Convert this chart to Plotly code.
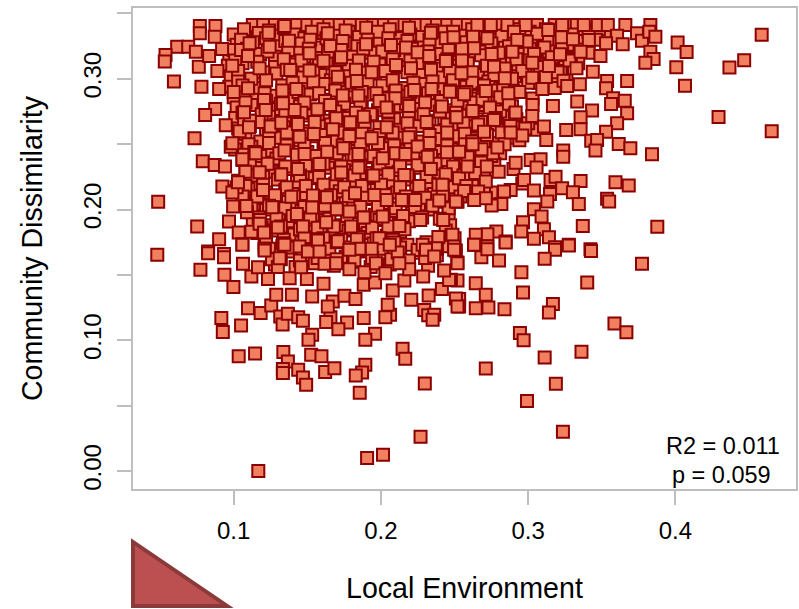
import plotly.graph_objects as go

# Underlying mass of overlapping squares (read approximately, row by row)
base_x = [
 .113,.120,.128,.136,.143,.150,.157,.165,.172,.179,.187,.195,.202,.209,.216,.224,.231,.238,.245,.252,.259,.268,.279,.290,.306,.318,.328,.333,
 .100,.108,.117,.129,.141,.148,.156,.170,.178,.185,.195,.203,.213,.220,.228,.242,.256,.268,.282,.297,.306,.317,.328,.343,.352,
 .102,.113,.131,.146,.158,.176,.184,.197,.211,.226,.239,.247,.258,.269,.281,.296,.308,.319,.331,.341,
 .097,.105,.118,.128,.143,.156,.169,.181,.193,.204,.214,.240,.251,.264,.283,.296,.305,.326,.341,
 .096,.106,.128,.141,.148,.163,.178,.190,.199,.213,.226,.238,.249,.259,.271,.292,.309,.323,.334,
 .098,.112,.129,.147,.159,.166,.176,.196,.208,.228,.240,.255,.268,.280,.291,.303,.319,.326,
 .097,.104,.118,.133,.148,.161,.174,.185,.201,.216,.229,.241,.258,.266,.277,.290,.312,.318,
 .100,.115,.127,.138,.152,.165,.180,.192,.205,.214,.226,.236,.253,.263,.274,.283,.303,
 .102,.112,.130,.145,.158,.172,.187,.198,.211,.224,.235,.246,.257,.269,.277,.289,
 .101,.116,.124,.138,.151,.163,.178,.194,.209,.222,.233,.243,.255,.265,.275,.284,.292,
 .103,.111,.122,.134,.148,.160,.171,.184,.199,.213,.226,.240,.250,.262,.271,.283,.295,.304,
 .104,.118,.130,.142,.156,.168,.181,.192,.205,.213,.227,.238,.252,.263,.276,.287,.294,
 .101,.112,.124,.137,.150,.161,.176,.188,.201,.216,.228,.240,.248,.260,.269,.281,
 .106,.117,.129,.143,.155,.167,.180,.193,.206,.220,.231,.243,.255,.266,.277,
 .108,.116,.126,.138,.151,.164,.175,.189,.198,.212,.225,.238,.250,.262,.270,
 .103,.114,.130,.143,.155,.169,.181,.194,.208,.219,.233,.244,.256,.264,
 .101,.110,.122,.135,.148,.160,.172,.185,.197,.211,.224,.236,.248,.267,.275,
 .107,.118,.129,.141,.156,.168,.179,.193,.204,.216,.229,.241,.251,
 .112,.122,.135,.146,.158,.171,.183,.196,.209,.221,.234,.246,
 .113,.125,.139,.151,.162,.174,.188,.199,.212,.219,.247,
 .116,.128,.141,.155,.167,.178,.191,.204,.213,.244,
 .121,.133,.146,.159,.172,.184,.195,.207,.218,.231,.244,
 .126,.138,.151,.163,.176,.188,.200,.213,.225,.238,
 .128,.142,.155,.168,.181,.193,.206,.219,.232,
]
base_y = [
 .3412,.3412,.3412,.3412,.3412,.3412,.3412,.3412,.3412,.3412,.3412,.3412,.3412,.3412,.3412,.3412,.3412,.3412,.3412,.3412,.3412,.3412,.3412,.3412,.3412,.3412,.3412,.3412,
 .334,.332,.335,.333,.334,.331,.335,.333,.336,.332,.335,.333,.331,.334,.332,.336,.333,.335,.332,.334,.331,.335,.333,.336,.332,
 .326,.328,.325,.327,.324,.327,.325,.328,.326,.324,.327,.325,.328,.324,.326,.327,.325,.328,.326,.324,
 .318,.316,.319,.317,.320,.316,.319,.317,.320,.318,.316,.319,.317,.320,.316,.319,.318,.316,.320,
 .310,.312,.309,.311,.308,.312,.310,.307,.311,.309,.312,.308,.310,.312,.309,.307,.311,.309,.312,
 .302,.300,.304,.301,.303,.299,.302,.304,.300,.303,.301,.299,.303,.300,.302,.304,.301,.299,
 .294,.296,.293,.295,.292,.296,.294,.292,.295,.293,.296,.292,.294,.296,.293,.291,.295,.293,
 .286,.284,.287,.285,.288,.284,.286,.288,.285,.287,.284,.286,.288,.285,.283,.287,.285,
 .278,.280,.277,.279,.276,.280,.278,.276,.279,.277,.280,.276,.278,.280,.277,.279,
 .270,.268,.271,.269,.272,.268,.270,.272,.269,.271,.268,.270,.272,.269,.267,.271,.269,
 .262,.264,.261,.263,.260,.264,.262,.260,.263,.261,.264,.260,.262,.264,.261,.259,.263,.261,
 .254,.252,.255,.253,.256,.252,.254,.256,.253,.255,.252,.254,.256,.253,.251,.255,.253,
 .246,.248,.245,.247,.244,.248,.246,.244,.247,.245,.248,.244,.246,.248,.245,.243,
 .238,.236,.239,.237,.240,.236,.238,.240,.237,.239,.236,.238,.240,.237,.235,
 .230,.232,.229,.231,.228,.232,.230,.228,.231,.229,.232,.228,.230,.232,.229,
 .222,.220,.223,.221,.224,.220,.222,.224,.221,.223,.220,.222,.224,.221,
 .214,.216,.213,.215,.212,.216,.214,.212,.215,.213,.216,.212,.214,.216,.213,
 .206,.204,.207,.205,.208,.204,.206,.208,.205,.207,.204,.206,.208,
 .198,.200,.197,.199,.196,.200,.198,.196,.199,.197,.200,.196,
 .190,.188,.191,.189,.192,.188,.190,.192,.189,.191,.188,
 .182,.184,.181,.183,.180,.184,.182,.180,.183,.184,
 .174,.172,.175,.173,.176,.172,.174,.176,.173,.175,.172,
 .166,.168,.165,.167,.164,.168,.166,.164,.167,.165,
 .158,.156,.159,.157,.160,.156,.158,.160,.157,
]

# Second, offset mass filling the dense region
fill_x = [
 .107,.124,.134,.153,.161,.176,.190,.198,.206,.219,.235,.249,.262,.274,.286,.301,.312,.323,.338,.348,
 .105,.122,.135,.152,.163,.174,.191,.205,.218,.233,.244,.263,.276,.289,.302,.313,.324,.336,.346,
 .100,.109,.123,.137,.151,.164,.173,.188,.201,.209,.221,.232,.246,.255,.270,.287,.301,.314,.335,
 .101,.116,.134,.146,.158,.172,.185,.195,.208,.220,.233,.245,.255,.277,.289,.301,.317,.329,
 .103,.120,.136,.154,.169,.183,.203,.218,.234,.247,.262,.274,.285,.298,.314,.322,
 .103,.122,.140,.154,.171,.180,.191,.208,.222,.235,.249,.262,.273,.284,.307,
 .107,.121,.133,.144,.158,.169,.187,.197,.210,.220,.232,.247,.258,.269,.279,
 .108,.122,.132,.148,.162,.175,.186,.199,.217,.230,.241,.252,.263,.271,.286,
 .106,.119,.135,.146,.157,.169,.183,.193,.205,.219,.229,.240,.251,.262,.281,
 .107,.117,.129,.143,.155,.166,.178,.189,.205,.218,.231,.245,.256,.268,.279,.300,
 .108,.124,.136,.151,.162,.175,.187,.199,.208,.220,.233,.245,.257,.270,.282,
 .110,.124,.136,.148,.162,.174,.186,.198,.209,.220,.233,.245,.257,.270,
 .107,.118,.131,.143,.156,.170,.182,.195,.210,.222,.234,.254,.266,.275,
 .111,.123,.135,.149,.161,.173,.186,.199,.213,.225,.237,.249,.260,.271,
 .112,.120,.132,.145,.158,.170,.182,.194,.205,.218,.231,.244,.256,
 .108,.120,.136,.149,.161,.175,.187,.200,.213,.226,.239,.250,.262,
 .106,.116,.128,.141,.154,.166,.178,.190,.203,.217,.230,.242,.254,.271,
 .112,.124,.135,.148,.162,.173,.186,.198,.210,.223,.235,.246,
 .117,.129,.140,.152,.165,.177,.189,.202,.215,.228,.240,
 .119,.132,.145,.157,.168,.181,.194,.205,.216,
 .122,.134,.148,.161,.173,.185,.197,.208,.239,.250,
 .124,.139,.152,.165,.178,.190,.201,.213,.225,.238,
 .132,.145,.157,.170,.182,.194,.207,.219,.230,
]
fill_y = [
 .338,.337,.339,.336,.338,.337,.339,.336,.338,.339,.337,.336,.338,.339,.337,.336,.338,.339,.337,.338,
 .330,.331,.329,.330,.331,.329,.330,.331,.329,.330,.331,.329,.330,.331,.329,.330,.331,.329,.330,
 .322,.323,.321,.322,.323,.321,.322,.323,.321,.322,.323,.321,.322,.323,.321,.322,.323,.321,.322,
 .314,.313,.315,.314,.313,.315,.314,.313,.315,.314,.313,.315,.314,.313,.315,.314,.313,.315,
 .306,.305,.307,.306,.305,.307,.306,.305,.307,.306,.305,.307,.306,.305,.307,.306,
 .298,.299,.297,.298,.299,.297,.298,.299,.297,.298,.299,.297,.298,.299,.297,
 .290,.289,.291,.290,.289,.291,.290,.289,.291,.290,.289,.291,.290,.289,.291,
 .282,.283,.281,.282,.283,.281,.282,.283,.281,.282,.283,.281,.282,.283,.281,
 .274,.273,.275,.274,.273,.275,.274,.273,.275,.274,.273,.275,.274,.273,.275,
 .266,.267,.265,.266,.267,.265,.266,.267,.265,.266,.267,.265,.266,.267,.265,.266,
 .258,.257,.259,.258,.257,.259,.258,.257,.259,.258,.257,.259,.258,.257,.259,
 .250,.251,.249,.250,.251,.249,.250,.251,.249,.250,.251,.249,.250,.251,
 .242,.241,.243,.242,.241,.243,.242,.241,.243,.242,.241,.243,.242,.241,
 .234,.235,.233,.234,.235,.233,.234,.235,.233,.234,.235,.233,.234,.235,
 .226,.225,.227,.226,.225,.227,.226,.225,.227,.226,.225,.227,.226,
 .218,.219,.217,.218,.219,.217,.218,.219,.217,.218,.219,.217,.218,
 .210,.209,.211,.210,.209,.211,.210,.209,.211,.210,.209,.211,.210,.209,
 .202,.203,.201,.202,.203,.201,.202,.203,.201,.202,.203,.201,
 .194,.193,.195,.194,.193,.195,.194,.193,.195,.194,.193,
 .186,.187,.185,.186,.187,.185,.186,.187,.185,
 .178,.177,.179,.178,.177,.179,.178,.177,.179,.178,
 .170,.171,.169,.170,.171,.169,.170,.171,.169,.170,
 .162,.161,.163,.162,.161,.163,.162,.161,.163,
]

# Extra squares in the dense right-hand side and along the left edge
extra_x = [
 .270,.282,.294,.306,.318,.330,.341,.275,.287,.299,.311,.323,.335,.268,.280,.292,.304,.316,.328,
 .272,.284,.296,.308,.320,.277,.289,.300,.312,.324,.270,.283,.294,.281,.269,.287,.303,.274,.291,
 .278,.266,.288,.298,.272,.262,.284,.276,.259,.268,.290,.264,.253,.280,.296,.258,.270,.252,
 .105,.099,.112,.106,.100,.111,.104,.098,.114,.108,.102,.116,.109,.118,.112,.121,.126,.130,
]
extra_y = [
 .3365,.3330,.3380,.3345,.3375,.3340,.3360,.3270,.3250,.3285,.3240,.3265,.3225,.3180,.3200,.3150,.3190,.3165,.3140,
 .3100,.3080,.3060,.3090,.3050,.3030,.3000,.2970,.3015,.2985,.2950,.2930,.2900,.2860,.2840,.2810,.2800,.2780,.2730,
 .2700,.2650,.2640,.2620,.2570,.2520,.2500,.2430,.2400,.2360,.2310,.2280,.2240,.2290,.2200,.2180,.2130,.2060,
 .3220,.3100,.3000,.2950,.2900,.2680,.2600,.2480,.2440,.2290,.2170,.2100,.1980,.1920,.1830,.1700,.1620,.1560,
]

# Squares whose outline can be read in the picture
read_x = [
 .0770,.0876,.0770,.0871,.0616,.0691,.0743,.0537,.0532,.0763,.0833,.0921,.0594,.0781,.0889,.0901,.0874,.0806,.0946,.0734,.0991,.0790,.0871,.0941,.1059,.0923,.0991,.1029,.0487,.0996,.1086,.0752,.0968,.1034,.0901,.0826,.1059,
 .1108,.1097,.1237,.1244,.1345,.1375,.1639,.1515,.1610,.1655,.1729,.1899,.2068,.2170,.2249,.2339,.2328,.2441,.2493,.1176,.1384,.1515,.1707,.1836,.1937,.2102,.2204,.1097,.1425,.2226,.2344,.2468,.1741,.1847,.2098,.2192,.2414,.2038,.1655,.1413,.1334,.1206,.1217,.1070,.1569,.1883,.1696,.1791,.2039,.2509,.1104,.1251,.1436,.1323,.1544,.1786,.1937,.1673,.1447,.2188,.2249,.1345,.1149,.1481,.1635,.1745,.1847,.2166,.2317,.2448,.2012,.1583,.1436,.1847,.1176,.1323,.1730,.1949,.2159,.2339,.1199,.2418,.1391,.1538,.1633,.1824,.2039,.2233,.1955,.2141,.2396,.1262,.1429,.1533,.1700,.1786,.1883,.2012,.2125,.2267,.2423,.1628,.1470,.1300,.1176,.1797,.1206,.1572,.1700,.1334,.1836,.1989,.2091,.2479,.2283,.1447,.2373,
 .2655,.2746,.2859,.2983,.2904,.2926,.2723,.2626,.2633,.2752,.2768,.2893,.3028,.3141,.3136,.3231,.3227,.3304,.3412,.3356,.3216,.3378,.3473,.3541,.3660,.3739,.3773,.3604,.3642,.3529,.3491,.3439,.3328,.2547,.2841,.3028,.3096,.3265,.3351,.3536,.3672,.3529,.3577,.3656,.3563,.3672,.3333,.3168,.3434,.3356,.3028,.2915,.2865,.2712,.2565,.2622,.2513,.2768,.3107,.3258,.3356,.3604,.3529,.3428,.3468,.3615,.3694,.3841,.3457,.3238,.3238,.3123,.2960,.2881,.2700,.2791,.2683,.2531,.2622,.2915,.3017,.3084,.3057,.2719,.2588,.2712,.2972,.3152,.3186,.3356,.3593,.3683,.2565,.2660,.2881,.2836,.3039,.3148,.3231,.3304,.3344,.3536,.3550,.2818,.2752,.2712,.2633,.2509,.3039,.3130,.3091,.3371,.3877,.2965,.2953,.3107,.3039,.3141,.3276,.3182,.3423,.2784,.2723,.2847,.2644,.2633,.2723,.2486,.2497,
 .4586,.4467,.4367,.4293,.4654,.4015,.4076,.4006,.4065,.3830,.3823,.3864,.3830,.3852,.3796,
 .3773,.3427,.3276,.3182,.3112,.2802,.2682,.2723,.2633,.2847,.2509,.2519,.2954,.3401,.2965,.2644,.2520,.2475,.2712,.2531,.2531,.2644,.2730,.2839,.3168,.3141,.2944,.2969,.3586,.3667,.3362,.3112,.2712,.3188,.2992,.3236,
 .0481,.0826,.0774,.0934,.0934,.0937,.0998,.1063,.1120,.1233,.1165,.1097,.1183,.1255,.1289,.1395,.1533,.1380,.1497,.1610,.0916,.0926,.1050,.1034,.1145,.1316,.1332,.1368,.1438,.1470,.1533,.1508,.1337,.1368,.1334,.1334,.1438,.1470,.1492,.1526,.1596,.1621,.1684,.1657,.1628,.1770,.1711,.1883,.1960,.1894,.1894,.1872,.1829,.1856,.2147,.2165,.2298,.2269,.2014,.1906,.1167,.2062,.2030,.2046,.1673,.1639,.2206,.2080,.2324,.2414,.2294,.2321,.2362,.2351,.2509,.2520,.1752,.1827,.1883,.1960,.1888,.1786,.1966,.2159,.2192,.2287,.2463,.2429,.2114,.2306,.2362,.2497,.2520,.1937,.1854,.1617,.1458,.1504,.1312,.1210,.1059,.1345,.1707,.1572,.2030,.2125,.1786,.1583,.1696,.2060,
]
read_y = [
 .3404,.3404,.3348,.3323,.3246,.3246,.3208,.3183,.3132,.3093,.3175,.3228,.2979,.2940,.3060,.2923,.2770,.2724,.2645,.2545,.2507,.2370,.2341,.2329,.2385,.2176,.2130,.2209,.2059,.2023,.2028,.1870,.1908,.1824,.1773,.1679,.1735,
 .3272,.3175,.3353,.3246,.3404,.3292,.3348,.3195,.3139,.3251,.3165,.3264,.3259,.3239,.3203,.3353,.3175,.3137,.3318,.3081,.3068,.3063,.3017,.2984,.3050,.3106,.3081,.2928,.2923,.2915,.2923,.2902,.2872,.2872,.2851,.2793,.2788,.2780,.2800,.2762,.2813,.2838,.2762,.2744,.2767,.2711,.2698,.2668,.2629,.2706,.2629,.2635,.2655,.2665,.2579,.2563,.2545,.2614,.2558,.2553,.2482,.2451,.2431,.2426,.2443,.2469,.2426,.2426,.2405,.2438,.2392,.2349,.2311,.2321,.2285,.2268,.2283,.2260,.2265,.2311,.2150,.2189,.2099,.2107,.2094,.2125,.2074,.2074,.2112,.2074,.2069,.2018,.1967,.2015,.2003,.1985,.1939,.1947,.1875,.1921,.1921,.1903,.1870,.1862,.1891,.1870,.1824,.1773,.1750,.1743,.1773,.1781,.1748,.1806,.1730,.1717,.1704,
 .3412,.3412,.3412,.3412,.3361,.3297,.3310,.3323,.3234,.3190,.3093,.3208,.3124,.3098,.3374,.3412,.3318,.3302,.3297,.3208,.3188,.3412,.3412,.3412,.3412,.3348,.3292,.3330,.3264,.3272,.3175,.3055,.3081,.3042,.3004,.3009,.2923,.2946,.2958,.2984,.2984,.2928,.2851,.2833,.2808,.2737,.2826,.2793,.2757,.2706,.2716,.2742,.2889,.2907,.2882,.2754,.2706,.2686,.2635,.2609,.2614,.2660,.2596,.2527,.2533,.2502,.2469,.2423,.2451,.2451,.2405,.2533,.2566,.2589,.2596,.2474,.2461,.2443,.2499,.2359,.2380,.2385,.2321,.2329,.2329,.2214,.2227,.2227,.2252,.2219,.2209,.2184,.2143,.2138,.2150,.2138,.2145,.2120,.2163,.2133,.2043,.2082,.2061,.2043,.2031,.2087,.2074,.2061,.2003,.2061,.1947,.1875,.1868,.1903,.1832,.1850,.1776,.1789,.1730,.1712,.1697,.1832,.1812,.1755,.1807,.1730,.1717,.1807,.1717,
 .3338,.3142,.3086,.2708,.2599,.3279,.3205,.3088,.2948,.3412,.3361,.3323,.3208,.3152,.3124,
 .1585,.1684,.1725,.1692,.1623,.1610,.1636,.1697,.1730,.1748,.1687,.1595,.1521,.1442,.1366,.1437,.1457,.1463,.1348,.1315,.1259,.1246,.1251,.1238,.1277,.1213,.1055,.1001,.1129,.1062,.0912,.0869,.0785,.0667,.0535,.0300,
 .1654,.1666,.1539,.1661,.1636,.1501,.1407,.1585,.1488,.1468,.1559,.1246,.1208,.1266,.1348,.1348,.1335,.1475,.1468,.1432,.1170,.1063,.1114,.0877,.0899,.1182,.1121,.1203,.1177,.1149,.1042,.1004,.0910,.0838,.0780,.0749,.0775,.0716,.0660,.0889,.0877,.0757,.0787,.1177,.1139,.1136,.1085,.1170,.1050,.1004,.0813,.0754,.0731,.0599,.0935,.0859,.0670,.0262,.0125,.0099,.0000,.1195,.1177,.1271,.1297,.1258,.1310,.1381,.1343,.1393,.1232,.1192,.1195,.1157,.1319,.1259,.1340,.1315,.1424,.1442,.1521,.1544,.1590,.1457,.1544,.1488,.1462,.1533,.1672,.1692,.1641,.1692,.1590,.1700,.1700,.1585,.1559,.1680,.1628,.1687,.1730,.1730,.1758,.1764,.1513,.1590,.1692,.1680,.1590,.1730,
]

y_tick_values = [0, .05, .10, .15, .20, .25, .30, .35]
y_tick_labels = ["0.00", "", "0.10", "", "0.20", "", "0.30", ""]
x_tick_values = [.1, .2, .3, .4]
x_tick_labels = ["0.1", "0.2", "0.3", "0.4"]

GREY = "#BEBEBE"
FONT = "Liberation Sans"

fig = go.Figure(go.Scatter(
    x=base_x + fill_x + extra_x + read_x, y=base_y + fill_y + extra_y + read_y, mode="markers",
    marker=dict(symbol="square", size=12, color="#F08060",
                line=dict(color="#8B0000", width=2)),
    hoverinfo="skip",
))

fig.update_layout(
    width=799, height=609, autosize=False,
    margin=dict(l=133, r=1, t=8, b=120),
    paper_bgcolor="white", plot_bgcolor="white",
    showlegend=False,
    font=dict(family=FONT, size=24, color="black"),
    xaxis=dict(range=[.0316, .4819], tickmode="array", tickvals=x_tick_values,
               ticktext=x_tick_labels, ticks="outside", ticklen=14, tickwidth=2,
               tickcolor=GREY, showline=True, linecolor=GREY, linewidth=2,
               mirror=True, showgrid=False, zeroline=False,
               tickfont=dict(family=FONT, size=24), ticklabelstandoff=5),
    yaxis=dict(range=[-.01376, .3542], tickmode="array", tickvals=y_tick_values,
               ticktext=y_tick_labels, ticks="outside", ticklen=14, tickwidth=2,
               tickcolor=GREY, showline=True, linecolor=GREY, linewidth=2,
               mirror=True, showgrid=False, zeroline=False, tickangle=-90,
               tickfont=dict(family=FONT, size=24), ticklabelstandoff=6),
    shapes=[dict(type="path", xref="paper", yref="paper",
                 path="M 0,-0.110 L 0,-0.243 L 0.142,-0.243 Z",
                 fillcolor="#BC5050", line=dict(color="#8B3A3A", width=4))],
    annotations=[
        dict(text="R2 = 0.011", xref="paper", yref="paper", x=0.8895, y=0.0885,
             showarrow=False, xanchor="center", yanchor="middle", font=dict(size=23.5)),
        dict(text="p = 0.059", xref="paper", yref="paper", x=0.8880, y=0.0295,
             showarrow=False, xanchor="center", yanchor="middle", font=dict(size=23.5)),
        dict(text="Local Environment", xref="paper", yref="paper", x=0.5005, y=-0.2055,
             showarrow=False, xanchor="center", yanchor="middle", font=dict(size=28.6)),
        dict(text="Community Dissimilarity", xref="paper", yref="paper", x=-0.153, y=0.5,
             showarrow=False, xanchor="center", yanchor="middle", textangle=-90,
             font=dict(size=28.6)),
    ],
)

fig.write_html("out.html", post_script="document.body.style.margin='0';",
               config={"displayModeBar": False})
